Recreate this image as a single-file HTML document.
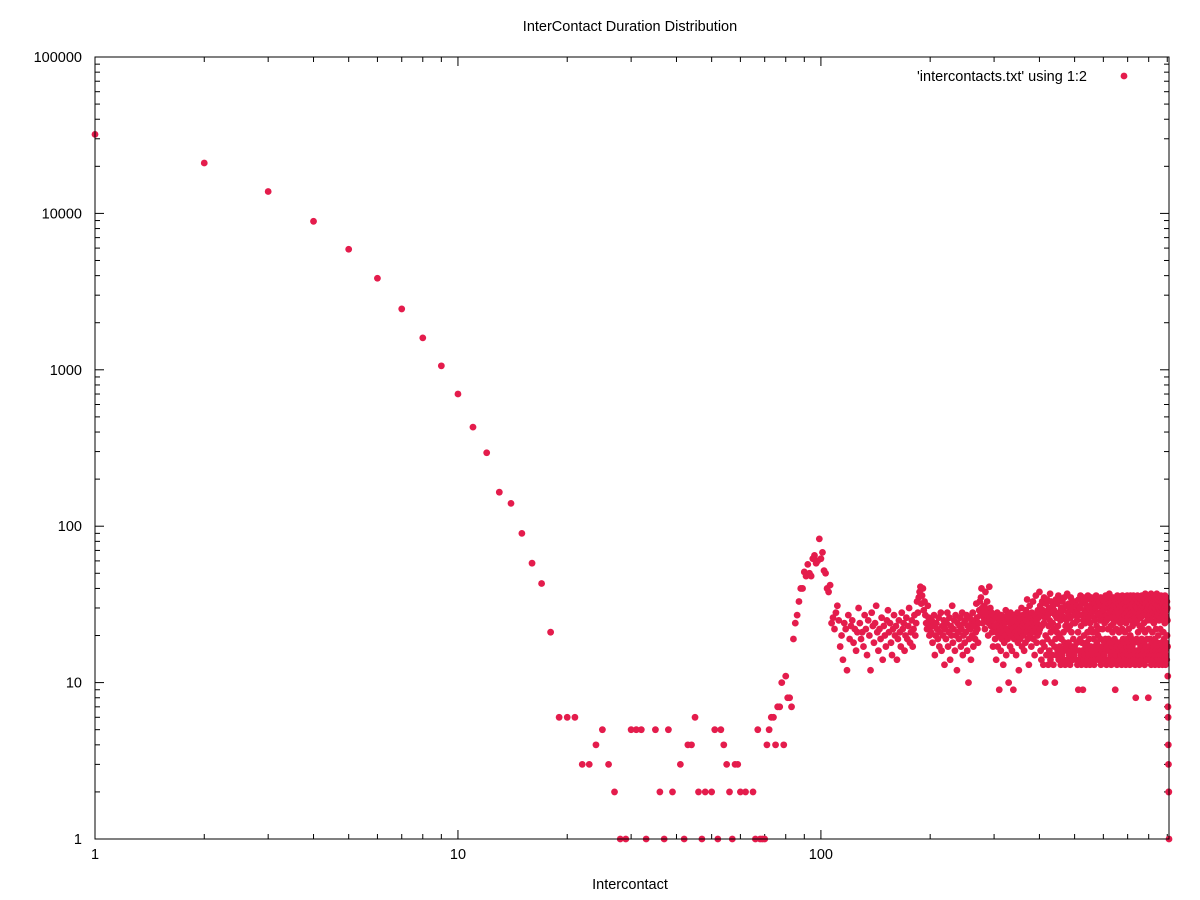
<!DOCTYPE html>
<html><head><meta charset="utf-8"><style>
html,body{margin:0;padding:0;background:#fff;}
svg{display:block;font-family:"Liberation Sans",Arial,sans-serif;}
</style></head><body>
<svg id="chart" width="1200" height="900" viewBox="0 0 1200 900">
<rect width="1200" height="900" fill="#fff"/>
<text x="630" y="31" font-size="14.5" text-anchor="middle">InterContact Duration Distribution</text>
<text x="630" y="889" font-size="14.5" text-anchor="middle">Intercontact</text>
<g id="ticks"></g>
<g id="points"></g>
<rect x="95" y="57" width="1074" height="782" fill="none" stroke="#000" stroke-width="1"/>
<g>
<text x="1087" y="81" font-size="14.5" text-anchor="end">'intercontacts.txt' using 1:2</text>
<circle cx="1124" cy="76" r="3.4" fill="#e41c4c"/>
</g>
</svg>
<script>
const xTickLabels = ["1","10","100"];
const yTickLabels = ["1","10","100","1000","10000","100000"];
const earlyX = [1,2,3,4,5,6,7,8,9,10,11,12,13,14,15,16,17,18,19,20,21,22,23,24,25,26,27,28,29,30,31,32,33,35,36,37,38,39,41,42,43,44,45,46,47,48,50,51,52,53,54,55,56,57,58,59,60,62,65,66,67,68,69,70,71,72,73,74,75,76,77,78,79,80,81,82,83,84,85,86,87,88,89,90,91,92,93,94,95,96,97,98,99,100,101,102,103,104,105,106];
const earlyY = [32000,21000,13800,8900,5900,3850,2450,1600,1060,700,430,295,165,140,90,58,43,21,6,6,6,3,3,4,5,3,2,1,1,5,5,5,1,5,2,1,5,2,3,1,4,4,6,2,1,2,2,5,1,5,4,3,2,1,3,3,2,2,2,1,5,1,1,1,4,5,6,6,4,7,7,10,4,11,8,8,7,19,24,27,33,40,40,51,48,57,50,48,62,65,58,60,83,62,68,52,50,40,38,42];
const bandStartX = 107;
const bandY = [
24,26,22,28,31,25,17,20,14,24,22,12,27,19,23,25,18,22,16,21,
30,24,19,21,17,27,22,15,25,20,12,28,23,18,24,31,21,16,22,19,
26,14,23,20,17,25,29,21,24,18,15,22,27,20,23,14,19,25,21,17,
28,22,24,16,20,26,19,23,30,18,21,25,17,22,27,20,24,33,28,35,
38,41,32,36,40,29,33,27,24,22,31,26,20,23,
21,25,18,23,27,15,20,24,22,19,26,17,21,28,16,23,20,25,13,22,
19,24,28,17,21,26,14,23,20,31,18,22,25,16,27,20,12,24,21,19,
23,26,17,22,28,15,20,24,18,25,21,27,16,23,10,19,26,22,14,24,
20,28,17,23,25,19,21,32,26,22,18,24,29,33,27,35,40,30,24,28,
26,31,22,38,27,25,33,29,20,24,41,26,30,23,28,21,25,17,27,22,
23,19,26,14,21,28,17,24,20,9,22,25,16,27,19,23,21,13,26,18,
24,20,29,15,22,27,19,25,10,21,24,17,28,20,23,16,26,22,9,24,
19,27,21,25,15,23,20,28,18,24,12,22,26,19,25,21,30,17,23,27,
20,24,16,26,22,18,29,25,21,34,23,19,27,13,24,31,20,26,22,17,
28,24,21,33,19,26,23,15,27,22,36,25,18,24,20,29,23,26,21,38,
22,31,16,27,14,23,33,18,29,13,24,35,17,26,10,20,32,15,28,34,
19,27,13,23,30,16,25,37,14,21,33,18,28,15,24,31,13,22,29,17,
10,27,19,34,15,26,21,32,16,23,36,14,28,20,17,34,25,13,30,19,
27,15,33,16,29,21,14,35,18,26,13,23,31,17,25,16,37,22,14,28,
18,32,15,30,23,13,26,35,16,21,29,17,33,14,24,19,31,15,27,17,
24,33,16,28,14,31,18,25,13,29,21,9,34,16,27,14,30,19,36,15,
23,13,32,18,27,16,9,25,35,14,20,29,15,33,24,17,28,13,31,18,
27,14,21,36,16,26,15,30,19,34,13,24,31,17,22,35,14,28,16,21,
33,15,29,19,26,13,32,17,25,14,30,21,36,16,23,18,34,15,28,20,
14,27,33,17,22,31,15,25,19,35,13,28,16,26,30,14,22,34,17,25,
29,15,33,18,24,14,31,19,36,16,27,13,25,35,17,30,14,22,32,19,
16,26,37,14,28,18,33,15,23,30,13,26,34,17,29,21,15,35,18,24,
31,14,27,19,34,16,9,28,15,33,22,17,30,13,25,36,18,29,14,32,
16,27,21,35,14,30,18,24,33,15,28,17,31,13,26,22,36,16,29,19,
34,15,25,18,32,14,27,21,35,16,30,13,24,33,17,28,19,36,15,26,
14,35,18,29,22,15,33,17,27,13,31,20,36,16,25,30,14,28,19,34,
17,23,32,15,27,36,14,29,18,33,16,26,35,13,24,31,8,28,15,34,
19,30,16,25,36,14,29,21,33,15,27,18,35,13,28,23,32,16,30,17,
26,34,14,29,19,36,15,31,22,17,33,14,27,35,16,24,30,18,34,13,
28,21,37,15,32,17,27,35,14,29,36,19,25,16,33,14,30,8,22,35,
17,31,15,27,36,14,29,19,34,16,25,37,13,30,18,33,15,27,21,35,
16,31,14,28,36,17,24,33,15,30,19,35,13,27,32,16,29,22,34,14,
26,37,15,31,18,28,34,14,27,20,36,16,30,13,25,33,17,29,35,15,
22,31,14,28,36,16,26,33,18,30,15,35,13,27,32,17,29,21,34,15,
28,19,33,14,30,24,36,16,27,13,31,18,35,15,26,29,14,33,20,30,
25,17,
11,7,6,4,3,2,2,1];

const NS="http://www.w3.org/2000/svg";
const L=95,R=1169,T=57,B=839;
const xMin=0,xMax=Math.log10(910),yMin=0,yMax=5;
function xs(v){return L+(Math.log10(v)-xMin)/(xMax-xMin)*(R-L);}
function ys(v){return B-(Math.log10(v)-yMin)/(yMax-yMin)*(B-T);}
function mk(tag,attrs){const e=document.createElementNS(NS,tag);for(const k in attrs)e.setAttribute(k,attrs[k]);return e;}

const tg=document.getElementById('ticks');
for(let d=0;d<3;d++){
  for(let m=1;m<=9;m++){
    const v=m*Math.pow(10,d);
    if(v>910)break;
    const px=xs(v), len=(m===1)?9:5;
    const a=mk('line',{x1:px,y1:B,x2:px,y2:B-len,stroke:'#000','stroke-width':1});
    
    
    tg.appendChild(a);
    const b=mk('line',{x1:px,y1:T,x2:px,y2:T+len,stroke:'#000','stroke-width':1});
    
    
    tg.appendChild(b);
    if(m===1){
      const t=mk('text',{x:px,y:B+20,'font-size':14.5,'text-anchor':'middle'});
      t.textContent=xTickLabels[d];
      
      
      tg.appendChild(t);
    }
  }
}
for(let d=0;d<=5;d++){
  for(let m=1;m<=9;m++){
    if(d===5&&m>1)break;
    const v=m*Math.pow(10,d);
    const py=ys(v), len=(m===1)?9:5;
    const a=mk('line',{x1:L,y1:py,x2:L+len,y2:py,stroke:'#000','stroke-width':1});
    
    
    tg.appendChild(a);
    const b=mk('line',{x1:R,y1:py,x2:R-len,y2:py,stroke:'#000','stroke-width':1});
    
    
    tg.appendChild(b);
    if(m===1){
      const t=mk('text',{x:L-13,y:py+5,'font-size':14.5,'text-anchor':'end'});
      t.textContent=yTickLabels[d];
      
      
      tg.appendChild(t);
    }
  }
}
const pg=document.getElementById('points');
function pt(x,y){
  const c=mk('circle',{cx:xs(x).toFixed(2),cy:ys(y).toFixed(2),r:3.4,fill:'#e41c4c'});
  
  
  pg.appendChild(c);
}
earlyX.forEach((x,i)=>pt(x,earlyY[i]));
bandY.forEach((y,i)=>pt(bandStartX+i,y));
</script>
</body></html>
